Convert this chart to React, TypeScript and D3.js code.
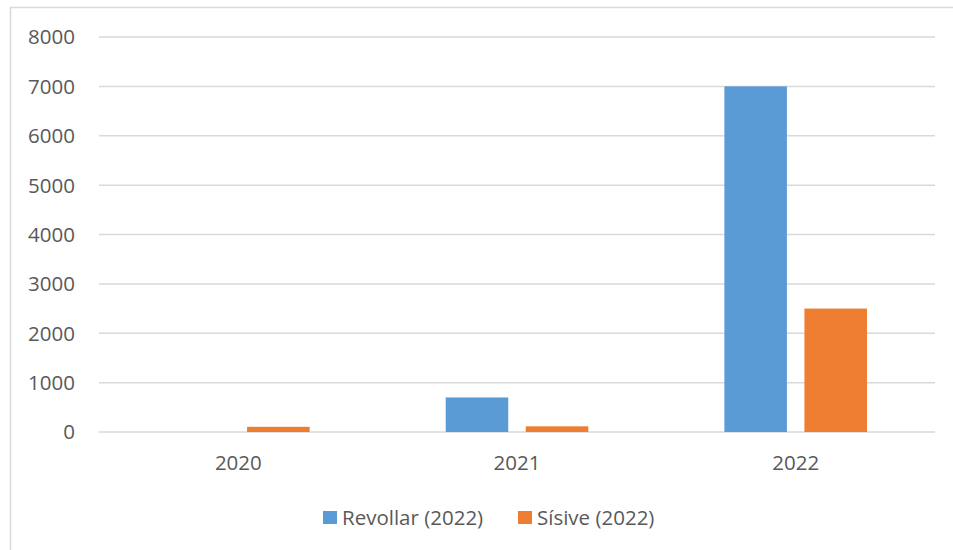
import * as d3 from "d3";
import { useEffect, useRef } from "react";

const years = ["2020", "2021", "2022"];
const seriesNames = ["Revollar (2022)", "Sísive (2022)"];
const revollar = [0, 700, 7000];
const sisive = [105, 115, 2500];
const yTicks = [0, 1000, 2000, 3000, 4000, 5000, 6000, 7000, 8000];
const colors = ["#5b9bd5", "#ed7d31"];

const App: React.FC = () => {
    const svgRef = useRef<SVGSVGElement | null>(null);

    useEffect(() => {
        const svg = d3.select(svgRef.current);
        svg.selectAll("*").remove();

        const width = 953, height = 550;
        const left = 99, right = 935, top = 37, bottom = 432;
        const font = "'Open Sans', sans-serif";
        const textColor = "#595959";
        const fontSize = "20.5px";

        // outer chart border
        svg.append("rect")
            .attr("x", 10.5).attr("y", 7.5)
            .attr("width", width + 20).attr("height", height + 20)
            .attr("fill", "#fff").attr("stroke", "#d9d9d9").attr("stroke-width", 1.5);

        const x = d3.scaleBand().domain(years).range([left, right]).paddingInner(0).paddingOuter(0);
        const y = d3.scaleLinear().domain([0, 8000]).range([bottom, top]);
        const inner = d3.scaleBand().domain(seriesNames).range([0, x.bandwidth()]).paddingInner(0.219).paddingOuter(0.85);

        // gridlines
        svg.append("g").selectAll("line")
            .data(yTicks)
            .join("line")
            .attr("x1", left).attr("x2", right)
            .attr("y1", d => y(d)).attr("y2", d => y(d))
            .attr("stroke", "#d9d9d9").attr("stroke-width", 1.5);

        // y labels
        svg.append("g").selectAll("text")
            .data(yTicks)
            .join("text")
            .attr("x", 75)
            .attr("y", d => y(d))
            .attr("dy", "0.36em")
            .attr("text-anchor", "end")
            .attr("fill", textColor)
            .style("font-family", font).style("font-size", fontSize)
            .text(d => String(d));

        // bars
        const series = [revollar, sisive];
        series.forEach((vals, si) => {
            svg.append("g").selectAll("rect")
                .data(vals.map((v, i) => ({ year: years[i], v })))
                .join("rect")
                .attr("x", d => (x(d.year) as number) + (inner(seriesNames[si]) as number))
                .attr("width", inner.bandwidth())
                .attr("y", d => y(d.v))
                .attr("height", d => y(0) - y(d.v))
                .attr("fill", colors[si]);
        });

        // x labels
        svg.append("g").selectAll("text")
            .data(years)
            .join("text")
            .attr("x", d => (x(d) as number) + x.bandwidth() / 2)
            .attr("y", 470)
            .attr("text-anchor", "middle")
            .attr("fill", textColor)
            .style("font-family", font).style("font-size", fontSize)
            .text(d => d);

        // legend
        const legendX = [323, 518];
        seriesNames.forEach((name, i) => {
            svg.append("rect")
                .attr("x", legendX[i]).attr("y", 511)
                .attr("width", 14).attr("height", 13)
                .attr("fill", colors[i]);
            svg.append("text")
                .attr("x", legendX[i] + 19).attr("y", 525)
                .attr("fill", textColor)
                .style("font-family", font).style("font-size", fontSize)
                .text(name);
        });
    }, []);

    return (
        <svg ref={svgRef} width={953} height={550}
            style={{ position: "absolute", left: 0, top: 0, display: "block" }} />
    );
};

export default App;
